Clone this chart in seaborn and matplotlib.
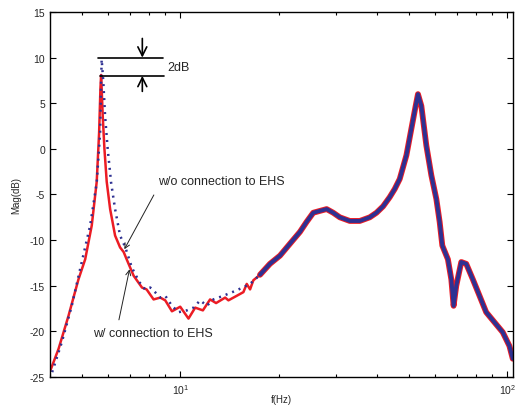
import numpy as np
import pandas as pd
import matplotlib
matplotlib.use("Agg")
import matplotlib.pyplot as plt
from matplotlib.ticker import LogLocator, NullFormatter
import seaborn as sns

# w/ connection to EHS (red, solid) - low frequency part
red_f = [4.0, 4.25, 4.556, 4.887, 5.124, 5.366, 5.557, 5.652, 5.704, 5.732,
         5.797, 5.867, 5.962, 6.107, 6.324, 6.55, 6.716, 6.86, 7.204, 7.641,
         7.893, 8.291, 8.69, 9.0, 9.434, 10.0, 10.6, 11.11, 11.73, 12.34,
         12.87, 13.72, 14.04, 14.89, 15.6, 15.97, 16.35, 16.73]
red_mag = [-24.4, -21.9, -18.3, -14.3, -12.1, -8.4, -3.6, 1.8, 6.6, 8.1,
           3.6, 0.0, -3.6, -6.6, -9.5, -10.8, -11.3, -12.1, -13.9, -15.2,
           -15.4, -16.5, -16.3, -16.6, -17.8, -17.3, -18.6, -17.4, -17.7, -16.5,
           -16.9, -16.3, -16.6, -16.1, -15.7, -14.8, -15.4, -14.4]

# w/o connection to EHS (blue, dotted) - low frequency part
blue_f = [4.0, 4.346, 4.662, 5.002, 5.306, 5.557, 5.692, 5.732, 5.754, 5.822,
          5.894, 6.003, 6.149, 6.324, 6.55, 6.797, 7.114, 7.5, 7.808, 8.1,
          8.375, 8.69, 9.0, 9.434, 9.88, 10.48, 10.98, 11.51, 12.06, 12.63,
          13.55, 14.89, 16.35]
blue_mag = [-25.2, -21.2, -17.2, -12.4, -8.4, -3.7, 1.8, 7.3, 9.8, 7.3,
            3.6, 0.0, -3.7, -6.6, -9.5, -10.8, -13.0, -14.6, -15.4, -15.2,
            -15.7, -16.3, -16.1, -17.2, -17.9, -17.7, -17.4, -16.6, -17.2, -16.5,
            -16.1, -15.5, -14.8]

# high frequency part, both curves overlap into one noisy band
band_f = [17.53, 18.8, 20.18, 21.64, 23.22, 24.34, 25.5, 26.72, 28.02, 29.35,
          30.74, 32.98, 35.38, 37.96, 39.79, 41.68, 43.66, 45.24, 46.86, 49.12,
          50.86, 52.42, 53.28, 54.57, 56.52, 58.54, 60.64, 62.06, 63.24, 65.77,
          67.37, 68.46, 69.77, 72.26, 74.84, 78.39, 82.16, 86.1, 91.26, 96.76,
          101.4, 103.8]
band_mag = [-13.8, -12.6, -11.7, -10.4, -9.1, -8.0, -7.0, -6.8, -6.6, -7.0,
            -7.5, -7.9, -7.9, -7.5, -7.0, -6.3, -5.3, -4.4, -3.3, -0.7,
            2.2, 4.7, 6.0, 4.7, 0.35, -2.9, -5.5, -8.0, -10.6, -12.1,
            -14.3, -17.2, -15.0, -12.4, -12.6, -14.3, -16.1, -17.9, -19.0, -20.1,
            -21.6, -23.0]

# 2dB marker
peak_levels = [10, 8]
level_f_start = [5.62, 5.70]
level_f_end = [8.87, 8.9]
arrow_f = 7.66

red = "#ec1c24"
blue = "#2e3192"

sns.set_style("ticks")
plt.rcParams["font.family"] = ["Liberation Sans", "DejaVu Sans"]
plt.rcParams["mathtext.fontset"] = "custom"
plt.rcParams["mathtext.rm"] = "Liberation Sans"
plt.rcParams["axes.unicode_minus"] = False

fig = plt.figure(figsize=(5.17, 4.06), dpi=100)
ax = fig.add_axes([0.0967, 0.069, 0.8956, 0.899])

low_red = pd.DataFrame({"f": red_f, "mag": red_mag})
low_blue = pd.DataFrame({"f": blue_f, "mag": blue_mag})
band = pd.DataFrame({"f": band_f, "mag": band_mag})

# red first, blue dots on top
sns.lineplot(data=pd.concat([low_red, band.iloc[:1]]), x="f", y="mag", ax=ax,
             color=red, lw=1.8, estimator=None)
sns.lineplot(data=band, x="f", y="mag", ax=ax, color=red, lw=4.2, estimator=None)
sns.lineplot(data=band, x="f", y="mag", ax=ax, color=blue, lw=2.8, estimator=None)
sns.lineplot(data=pd.concat([low_blue, band.iloc[:1]]), x="f", y="mag", ax=ax,
             color=blue, lw=1.8, linestyle=(0, (0.8, 2.0)), estimator=None)

ax.set_xscale("log")
ax.set_xlim(4, 104)
ax.set_ylim(-25, 15)
ax.set_yticks(np.arange(-25, 16, 5))
ax.xaxis.set_minor_locator(LogLocator(base=10, subs=np.arange(2, 10)))
ax.xaxis.set_minor_formatter(NullFormatter())
ax.tick_params(which="both", direction="in", top=True, right=True,
               labelsize=7.5, color="black", width=0.8)
ax.tick_params(which="major", length=4)
ax.tick_params(which="minor", length=2.5)
for s in ax.spines.values():
    s.set_color("black")
    s.set_linewidth(1.0)
ax.set_xlabel("f(Hz)", fontsize=7, labelpad=-1)
ax.set_ylabel("Mag(dB)", fontsize=7, labelpad=6)

# 2dB annotation
for lev, f0, f1 in zip(peak_levels, level_f_start, level_f_end):
    ax.plot([f0, f1], [lev, lev], color="black", lw=1.2)
ax.annotate("", xy=(arrow_f, peak_levels[0]), xytext=(arrow_f, 12.1),
            arrowprops=dict(arrowstyle="->", lw=1.2, color="black",
                            mutation_scale=16, shrinkA=0, shrinkB=0))
ax.annotate("", xy=(arrow_f, peak_levels[1]), xytext=(arrow_f, 6.3),
            arrowprops=dict(arrowstyle="->", lw=1.2, color="black",
                            mutation_scale=16, shrinkA=0, shrinkB=0))
ax.text(9.13, 9.0, "2dB", fontsize=9, va="center", ha="left")

ax.annotate("w/o connection to EHS", xy=(6.75, -11.0), xytext=(8.57, -3.5),
            fontsize=9, va="center", ha="left",
            arrowprops=dict(arrowstyle="->", lw=0.7, color="#222222",
                            shrinkA=4, shrinkB=0, relpos=(0, 0)))
ax.annotate("w/ connection to EHS", xy=(7.0, -13.2), xytext=(5.43, -20.2),
            fontsize=9, va="center", ha="left",
            arrowprops=dict(arrowstyle="->", lw=0.7, color="#222222",
                            shrinkA=3, shrinkB=0, relpos=(0.2, 1)))

fig.savefig("out.png", dpi=100)
